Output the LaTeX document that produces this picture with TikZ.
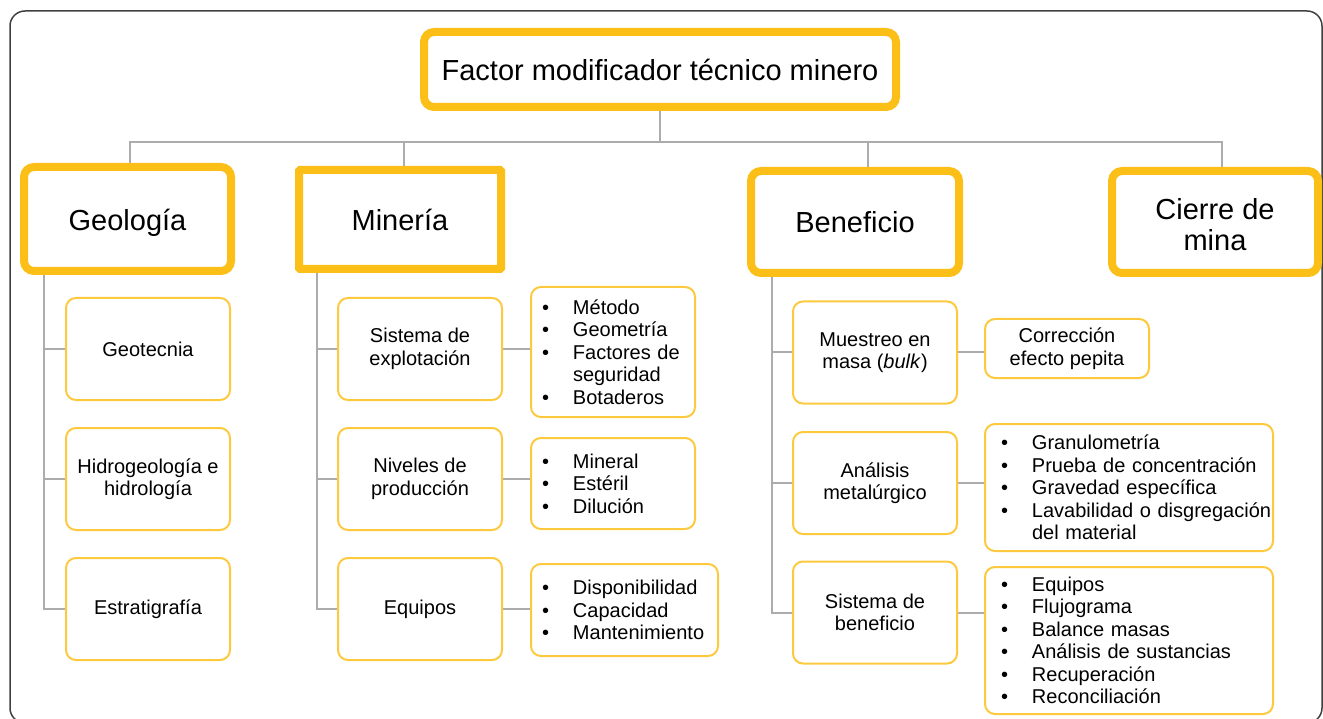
\documentclass[tikz,border=0pt]{standalone}
\usepackage{fontspec}
\setmainfont{Liberation Sans}
\usetikzlibrary{backgrounds}

\definecolor{amarillo}{RGB}{252,191,24}
\definecolor{amarilloclaro}{RGB}{253,201,62}
\definecolor{gris}{RGB}{172,172,172}
\definecolor{marco}{RGB}{64,64,64}

% bullet line and continuation line
\newcommand{\li}[1]{\mbox{\makebox[31pt][l]{\textbullet}#1}}
\newcommand{\lc}[1]{\mbox{\hspace*{31pt}#1}}

\tikzset{
factor/.style={draw=amarillo, line width=8pt, rounded corners=10pt, fill=white,
  align=center, font=\fontsize{29}{31}\selectfont},
sub/.style={draw=amarilloclaro, line width=2pt, rounded corners=10pt, fill=white,
  align=center, minimum width=164pt, minimum height=102pt,
  font=\fontsize{20}{22.5}\selectfont},
lista/.style={sub, align=left, inner xsep=11pt},
link/.style={draw=gris, line width=2pt}
}

\begin{document}
\begin{tikzpicture}[x=1pt,y=-1pt]
\useasboundingbox (0,0) rectangle (1323,719);
\begin{scope}
\clip (0,0) rectangle (1323,719);
\draw[marco, line width=1.5pt, rounded corners=15pt] (10,11) rectangle (1322,723);
\end{scope}

% main factor and the four groups
\node[factor, minimum width=472pt, minimum height=75pt] (top) at (660,69.5) {Factor modificador técnico minero};
\node[factor, minimum width=207pt, minimum height=104pt] (geo) at (127.5,219) {\raisebox{-12pt}[0pt][0pt]{Geología}};
\node[factor, rounded corners=1pt, minimum width=202pt, minimum height=99pt] (min) at (400,219.5) {Minería};
\node[factor, minimum width=208pt, minimum height=102pt] (ben) at (855,222) {Beneficio};
\node[factor, minimum width=206pt, minimum height=102pt] (cie) at (1215,222) {\rule{0pt}{26pt}Cierre de\\mina};

% Geologia
\node[sub] (g1) at (148,349) {Geotecnia};
\node[sub] (g2) at (148,479) {Hidrogeología e\\hidrología};
\node[sub] (g3) at (148,609) {Estratigrafía};

% Mineria
\node[sub] (m1) at (420,349) {Sistema de\\explotación};
\node[sub] (m2) at (420,479) {Niveles de\\producción};
\node[sub] (m3) at (420,609) {Equipos};
\node[lista, text width=142pt, minimum height=130pt] (ml1) at (613,352)
  {\li{Método}\\\li{Geometría}\\\li{Factores de}\\\lc{seguridad}\\\li{Botaderos}};
\node[lista, text width=142pt, minimum height=91pt] (ml2) at (613,483.5)
  {\li{Mineral}\\\li{Estéril}\\\li{Dilución}};
\node[lista, text width=165pt, minimum height=92pt] (ml3) at (624.5,610)
  {\li{Disponibilidad}\\\li{Capacidad}\\\li{Mantenimiento}};

% Beneficio
\node[sub] (b1) at (875,352.5) {Muestreo en\\masa (\textit{bulk})};
\node[sub] (b2) at (875,483) {Análisis\\metalúrgico};
\node[sub] (b3) at (875,612.5) {Sistema de\\beneficio};
\node[sub, minimum height=59pt] (bl1) at (1067,348.5) {Corrección\\efecto pepita};
\node[lista, inner xsep=16pt, text width=256pt, minimum width=288pt, minimum height=127pt] (bl2) at (1129,487.5)
  {\li{Granulometría}\\\li{Prueba de concentración}\\\li{Gravedad específica}\\\li{Lavabilidad o disgregación}\\\lc{del material}};
\node[lista, inner xsep=16pt, text width=256pt, minimum width=288pt, minimum height=147pt] (bl3) at (1129,640.5)
  {\li{Equipos}\\\li{Flujograma}\\\li{Balance masas}\\\li{Análisis de sustancias}\\\li{Recuperación}\\\li{Reconciliación}};

\begin{pgfonlayer}{background}
\coordinate (bus) at (660,142);
\draw[link] (top) -- (bus);
\draw[link] (bus) -| ([xshift=2.5pt]geo.north);
\draw[link] (bus) -| ([xshift=4pt]min.north);
\draw[link] (bus) -| ([xshift=13pt]ben.north);
\draw[link] (bus) -| ([xshift=7pt]cie.north);
\foreach \i in {1,2,3}{
  \draw[link] (geo.south -| 44,0) |- (g\i.west);
  \draw[link] (min.south -| 317,0) |- (m\i.west);
  \draw[link] (ben.south -| 772,0) |- (b\i.west);
  \draw[link] (m\i.east) -- (m\i.east -| ml\i.west);
  \draw[link] (b\i.east) -- (b\i.east -| bl\i.west);
}
\end{pgfonlayer}
\end{tikzpicture}
\end{document}
